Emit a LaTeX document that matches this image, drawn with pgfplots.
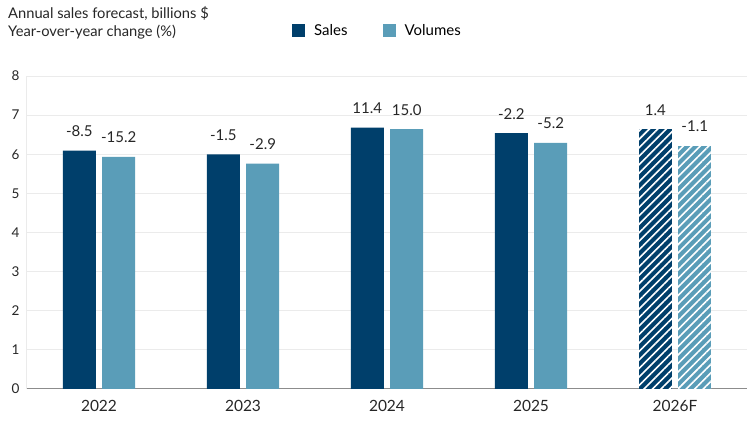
\documentclass[border=0pt]{standalone}
\usepackage{pgfplots}
\pgfplotsset{compat=1.18}
\usepackage{pgfplotstable}
\usepackage{fontspec}
\setmainfont{Lato}
\usetikzlibrary{patterns.meta}
\definecolor{salescol}{HTML}{003F6B}
\definecolor{volcol}{HTML}{5A9DB8}
\definecolor{gridcol}{HTML}{EBEBEB}
\definecolor{axcol}{HTML}{8C8C8C}

\pgfplotstableread{
x y lab
0 6.09 -8.5
1 6.00 -1.5
2 6.68 11.4
3 6.54 -2.2
}\salesdata
\pgfplotstableread{
x y lab
4 6.64 1.4
}\salesfc
\pgfplotstableread{
x y lab
0 5.93 -15.2
1 5.76 -2.9
2 6.64 15.0
3 6.29 -5.2
}\voldata
\pgfplotstableread{
x y lab
4 6.22 -1.1
}\volfc

\begin{document}
\begin{tikzpicture}
\begin{axis}[
  scale only axis,
  width=720pt, height=313pt,
  xmin=-0.5, xmax=4.5,
  ymin=0, ymax=8,
  ytick={0,1,...,8},
  xtick={0,1,2,3,4},
  xticklabels={2022,2023,2024,2025,2026F},
  /pgf/number format/assume math mode=true,
  ymajorgrids,
  grid style={gridcol, line width=1pt},
  axis x line*=bottom,
  axis y line*=left,
  x axis line style={axcol, line width=1pt, -},
  y axis line style={gridcol, line width=1pt, -},
  major tick length=0pt,
  tick style={draw=none},
  yticklabel style={font=\fontsize{13.5}{15}\selectfont, text=black!85, xshift=-4pt},
  xticklabel style={font=\fontsize{15.5}{17}\selectfont, text=black!85, yshift=-8pt},
  ybar,
  bar width=0.229,
  nodes near coords,
  point meta=explicit symbolic,
  every node near coord/.append style={font=\fontsize{15}{17}\selectfont, text=black!85, anchor=base, yshift=14pt},
  legend columns=2,
  legend style={at={(0.368,1.144)}, anchor=west, draw=none, fill=none, inner sep=0pt,
    font=\fontsize{15}{17}\selectfont,
    /tikz/every even column/.append style={column sep=33pt}},
  legend image code/.code={\fill[#1] (0pt,-6.5pt) rectangle (13pt,6.5pt);},
]
\addplot[fill=salescol, draw=none, bar shift=-0.137] table[x=x,y=y,meta=lab]{\salesdata};
\addlegendentry{\hspace*{7pt}Sales}
\addplot[fill=volcol, draw=none, bar shift=0.137] table[x=x,y=y,meta=lab]{\voldata};
\addlegendentry{\hspace*{7pt}Volumes}
\addplot[fill=salescol, draw=none, bar shift=-0.137, forget plot,
  postaction={pattern={Lines[angle=45,distance=6pt,line width=1.6pt]}, pattern color=white}]
  table[x=x,y=y,meta=lab]{\salesfc};
\addplot[fill=volcol, draw=none, bar shift=0.137, forget plot,
  postaction={pattern={Lines[angle=45,distance=6pt,line width=1.6pt]}, pattern color=white}]
  table[x=x,y=y,meta=lab]{\volfc};
\end{axis}
\node[anchor=base west, inner sep=0pt, font=\fontsize{14.7}{16}\selectfont, text=black!85] at (-19pt,370pt) {Annual sales forecast, billions \$};
\node[anchor=base west, inner sep=0pt, font=\fontsize{14.7}{16}\selectfont, text=black!85] at (-19pt,352pt) {Year-over-year change (\%)};
\pgfresetboundingbox
\path[use as bounding box] (-27pt,-33pt) rectangle (723pt,389pt);
\end{tikzpicture}
\end{document}
